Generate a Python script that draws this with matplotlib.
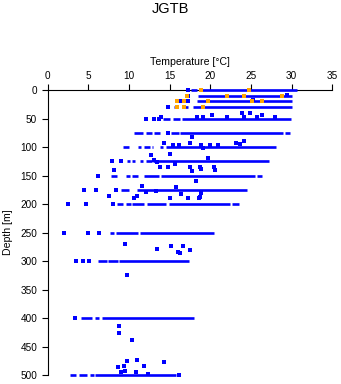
import matplotlib
matplotlib.use("Agg")
import matplotlib.pyplot as plt

# ---- data: dense runs of blue observations (depth, start temp, end temp) ----
seg_depth = [0, 0, 10, 20, 30, 30, 30,
             50, 50, 50,
             75, 75, 75, 75, 75, 75,
             100, 100, 100, 100, 100, 100,
             125, 125, 125, 125, 125,
             150, 150, 150, 150, 150, 150,
             175, 175,
             200, 200, 200, 200, 200, 200,
             250, 250, 250,
             300, 300, 300,
             400, 400, 400,
             500, 500, 500, 500]
seg_start = [17.6, 19.0, 18.5, 18.3, 15.5, 16.6, 17.9,
             14.2, 15.4, 16.55,
             10.6, 12.1, 13.1, 15.2, 16.3, 29.2,
             9.3, 11.1, 11.9, 12.8, 13.8, 14.5,
             9.8, 10.4, 11.35, 12.1, 13.0,
             7.8, 9.6, 10.4, 11.85, 13.9, 25.7,
             9.05, 11.0,
             8.5, 9.6, 10.4, 12.2, 14.9, 22.7,
             7.6, 8.4, 11.3,
             6.2, 7.4, 8.8,
             4.1, 5.8, 6.65,
             2.75, 3.9, 5.25, 5.8]
seg_end = [18.4, 30.6, 30.1, 30.0, 16.0, 17.3, 30.0,
           15.0, 16.3, 29.9,
           11.7, 12.8, 13.8, 16.1, 28.9, 29.8,
           10.0, 11.5, 12.6, 13.0, 14.2, 28.1,
           10.1, 10.7, 11.7, 12.8, 27.2,
           8.5, 10.1, 11.1, 13.7, 25.5, 26.3,
           9.95, 24.55,
           9.3, 10.25, 11.8, 14.5, 22.4, 23.5,
           8.15, 11.1, 20.5,
           7.3, 8.65, 17.4,
           5.5, 6.35, 18.0,
           3.5, 4.8, 5.7, 15.8]

# ---- isolated blue observations ----
pt_temp = [17.2, 29.4, 17.3, 25.2, 16.4, 17.3, 14.8,
           20.2, 23.9, 24.9,
           12.1, 13.1, 13.7, 13.9, 18.3, 19.1, 22.1, 24.2, 25.7, 26.4, 27.9,
           14.8, 17.8, 24.1, 14.3, 17.5, 23.2, 23.65, 15.4, 16.2, 18.8, 20.0, 20.9,
           19.1, 12.7, 15.1, 19.75, 13.1, 13.5,
           7.95, 9.0, 15.7, 13.8, 14.8, 17.5, 18.7, 20.4, 8.1, 17.75, 18.9, 20.6,
           6.2, 18.2, 11.6, 15.8,
           4.5, 5.9, 8.4, 13.3, 16.4, 18.9, 12.1, 7.5, 11.0, 10.6, 15.0, 17.3, 18.6, 18.7,
           2.5, 4.75, 8.0,
           2.05, 5.0, 6.3, 9.55, 13.4, 15.2, 16.6, 17.55, 16.0, 16.3,
           3.5, 4.4, 5.1, 9.7,
           3.4, 8.8, 8.8, 10.4, 9.8, 11.0, 14.3, 11.8, 9.4, 8.7, 9.0, 9.55, 10.8, 12.3,
           16.1]
pt_depth = [0, 8, 10, 17, 20, 20, 30,
            43, 40, 40,
            50, 50, 50, 48, 48, 48, 48, 48, 47, 44, 47,
            75, 82, 89, 93, 93, 93, 95, 96, 96, 96, 96, 96,
            102, 114, 112, 120, 122, 126,
            125, 125, 130, 135, 135, 135, 135, 135, 140, 142, 138, 141,
            150, 160, 169, 170,
            175, 175, 175, 177, 182, 180, 179, 186, 185, 190, 190, 190, 190, 188,
            200, 200, 200,
            250, 250, 250, 270, 279, 274, 274, 280, 284, 286,
            300, 300, 300, 324,
            400, 414, 426, 439, 475, 474, 476, 484, 484, 486, 495, 493, 494, 497,
            500]

# ---- orange observations ----
or_temp = [18.8, 24.7, 17.1, 22.1, 24.1, 28.8, 15.85, 16.8, 19.75, 25.1, 26.3,
           15.9, 16.7, 19.1]
or_depth = [0, 0, 10, 10, 10, 10, 20, 20, 20, 20, 20, 30, 30, 30]

x_ticks = [0, 5, 10, 15, 20, 25, 30, 35]
y_ticks = [0, 50, 100, 150, 200, 250, 300, 350, 400, 450, 500]

plt.rcParams['font.family'] = ['Liberation Sans', 'DejaVu Sans']

fig = plt.figure(figsize=(3.41, 3.84), dpi=100)
ax = fig.add_axes([0.1399, 0.0227, 0.8346, 0.7429])

blue = '#0000FF'
orange = '#FFA500'

ax.hlines(seg_depth, seg_start, seg_end, colors=blue, linewidth=1.9,
          clip_on=False, zorder=3)
ax.plot(pt_temp, pt_depth, 's', color=blue, markersize=2.2, markeredgewidth=0,
        clip_on=False, zorder=4)
ax.plot(or_temp, or_depth, 's', color=orange, markersize=2.3, markeredgewidth=0,
        clip_on=False, zorder=5)

ax.set_xlim(0, 35)
ax.set_ylim(500, 0)
ax.set_xticks(x_ticks)
ax.set_yticks(y_ticks)
ax.xaxis.set_ticks_position('top')
ax.xaxis.set_label_position('top')
ax.tick_params(axis='both', direction='out', length=4.0, width=0.8,
               labelsize=7.2, color='black')
ax.tick_params(axis='x', pad=2.5)
ax.tick_params(axis='y', pad=3.5)
for s in ['right', 'bottom']:
    ax.spines[s].set_visible(False)
for s in ['top', 'left']:
    ax.spines[s].set_linewidth(0.8)

ax.set_xlabel('Temperature [°C]', fontsize=7.6, labelpad=4)
ax.set_ylabel('Depth [m]', fontsize=7.6, labelpad=5.5)
fig.text(0.5, 0.976, 'JGTB', ha='center', va='center', fontsize=10.5)

fig.savefig('out.png', dpi=100)
